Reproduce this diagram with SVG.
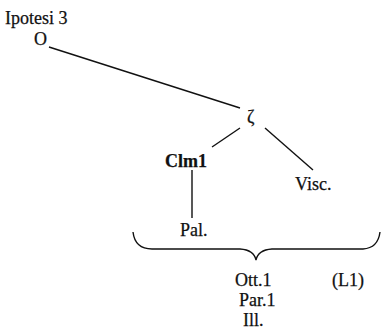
<svg xmlns="http://www.w3.org/2000/svg" width="386" height="336" viewBox="0 0 386 336">
<style>
text{font-family:"Liberation Serif","Times New Roman",serif;font-size:18px;fill:#111;stroke:#111;stroke-width:0.25}
.b{font-weight:bold}
.c{stroke:#111;stroke-width:1.4;fill:none}
</style>
<rect width="386" height="336" fill="#fff"/>
<g id="title"><text x="5" y="24">Ipotesi 3</text></g>
<g id="n-O"><text x="34" y="45">O</text></g>
<g id="n-zeta"><text x="247" y="123">ζ</text></g>
<g id="n-Clm1"><text class="b" x="165" y="167">Clm1</text></g>
<g id="n-Visc"><text x="295" y="190">Visc.</text></g>
<g id="n-Pal"><text x="180" y="236">Pal.</text></g>
<g id="n-group">
<text x="235" y="286">Ott.1</text>
<text x="239" y="306">Par.1</text>
<text x="243" y="326">Ill.</text>
</g>
<g id="n-L1"><text x="332" y="286">(L1)</text></g>
<g id="connectors">
<line class="c" x1="49" y1="47" x2="240" y2="108"/>
<line class="c" x1="240" y1="128" x2="212" y2="147"/>
<line class="c" x1="265" y1="128" x2="313" y2="170"/>
<line class="c" x1="192" y1="170" x2="192" y2="218"/>
<path class="c" d="M133,232 Q135,249 152,249 L240,249 Q254,250 256,260 Q258,250 272,249 L363,249 Q378,248 380,232"/>
</g>
</svg>
